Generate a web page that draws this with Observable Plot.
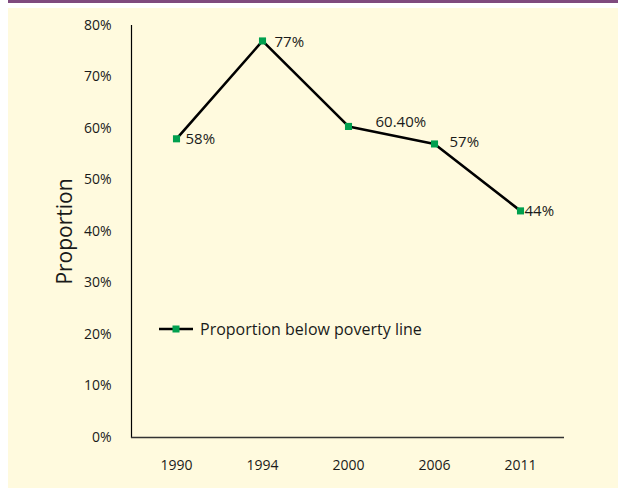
<!DOCTYPE html>
<html>
<head>
<meta charset="utf-8">
<script src="https://cdn.jsdelivr.net/npm/d3@7"></script>
<script src="https://cdn.jsdelivr.net/npm/@observablehq/plot@0.6"></script>
<style>
  html, body { margin: 0; padding: 0; background: #ffffff; }
  body { width: 618px; height: 488px; position: relative; overflow: hidden; font-family: "Open Sans", sans-serif; }
  #topbar { position: absolute; left: 8px; top: 0; width: 610px; height: 3px; background: #7f4a7e; }
  #panel { position: absolute; left: 8px; top: 8px; width: 610px; height: 480px; background: #fffade; }
  #legend { position: absolute; left: 158px; top: 318px; display: flex; align-items: center; font-size: 16px; color: #1a1a1a; white-space: nowrap; }
  #legend svg { margin-right: 6px; }
</style>
</head>
<body>
<div id="topbar"></div>
<div id="panel"></div>
<div id="legend"></div>
<script>
// Data
const years = ["1990", "1994", "2000", "2006", "2011"];
const proportions = [0.58, 0.77, 0.604, 0.57, 0.44];
const valueLabels = ["58%", "77%", "60.40%", "57%", "44%"];
const labelDx = [9, 12, 27, 15, 4];
const labelDy = [0, 1, -4, -2, 0];
const yTicks = [0, 0.1, 0.2, 0.3, 0.4, 0.5, 0.6, 0.7, 0.8];
const seriesName = "Proportion below poverty line";
const yTitle = "Proportion";

const data = years.map((year, i) => ({year, value: proportions[i], label: valueLabels[i], dx: labelDx[i], dy: labelDy[i]}));

const font = "Open Sans";
const lineColor = "#000000";
const markerColor = "#00a04f";

const plot = Plot.plot({
  width: 610,
  height: 480,
  marginLeft: 123,
  marginRight: 54,
  marginTop: 17,
  marginBottom: 51,
  style: {background: "transparent", fontFamily: font, color: "#1a1a1a", overflow: "visible"},
  x: {type: "point", domain: years, padding: 0.5, label: null},
  y: {domain: [0, 0.8], label: null},
  marks: [
    Plot.axisY({ticks: yTicks, tickFormat: d => Math.round(d * 100) + "%", tickSize: 0, tickPadding: 20, fontSize: 14, label: null, fill: "#1a1a1a"}),
    Plot.axisX({tickSize: 0, tickPadding: 23, fontSize: 14, label: null, fill: "#1a1a1a"}),
    Plot.frame({anchor: "left", stroke: "#000", strokeWidth: 1.2}),
    Plot.ruleY([0], {stroke: "#333", strokeWidth: 1.6}),
    Plot.text([yTitle], {frameAnchor: "left", textAnchor: "middle", rotate: -90, dx: -66, fontSize: 21, fill: "#1a1a1a", fontFamily: font}),
    Plot.line(data, {x: "year", y: "value", stroke: lineColor, strokeWidth: 2.6}),
    Plot.dot(data, {x: "year", y: "value", symbol: "square", r: 4, fill: markerColor, stroke: "none"}),
    ...data.map(d => Plot.text([d], {x: "year", y: "value", text: "label", textAnchor: "start", dx: d.dx, dy: d.dy, fontSize: 15, fill: "#1a1a1a", fontFamily: font}))
  ]
});
plot.style.position = "absolute";
plot.style.left = "8px";
plot.style.top = "8px";
document.body.appendChild(plot);

// Legend
const legend = document.getElementById("legend");
legend.innerHTML = `<svg width="36" height="12"><line x1="1" y1="6" x2="35" y2="6" stroke="${lineColor}" stroke-width="2.6"/><rect x="14.5" y="2.5" width="7" height="7" fill="${markerColor}"/></svg><span>${seriesName}</span>`;
</script>
</body>
</html>
